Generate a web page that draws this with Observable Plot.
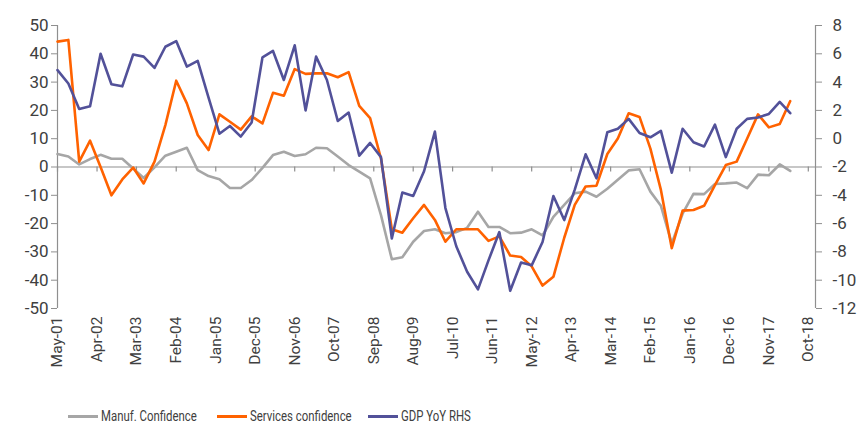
<!DOCTYPE html>
<html>
<head>
<meta charset="utf-8">
<script src="https://cdn.jsdelivr.net/npm/d3@7"></script>
<script src="https://cdn.jsdelivr.net/npm/@observablehq/plot@0.6"></script>
<style>
  html, body { margin: 0; padding: 0; background: #fff; }
  #wrap { position: relative; width: 862px; height: 425px; font-family: Roboto, "Noto Sans", sans-serif; }
  #legend { position: absolute; top: 407px; left: 0; width: 862px; height: 20px; font-size: 15px; color: #404040; }
  .item { position: absolute; top: 0; display: flex; align-items: center; white-space: nowrap; }
  .sw { width: 30px; height: 3px; margin-right: 3px; }
  .lt { display: inline-block; transform: scaleX(0.76); transform-origin: left center; }
</style>
</head>
<body>
<div id="wrap">
  <div id="chart"></div>
  <div id="legend"></div>
</div>
<script>
// Tick labels on the x axis
const tickLabels = ["May-01","Apr-02","Mar-03","Feb-04","Jan-05","Dec-05","Nov-06","Oct-07","Sep-08","Aug-09",
  "Jul-10","Jun-11","May-12","Apr-13","Mar-14","Feb-15","Jan-16","Dec-16","Nov-17","Oct-18"];
const leftTicks = [-50,-40,-30,-20,-10,0,10,20,30,40,50];
const rightTicks = [-12,-10,-8,-6,-4,-2,0,2,4,6,8];
const seriesNames = ["Manuf. Confidence","Services confidence","GDP YoY RHS"];
const seriesColors = ["#a6a6a6","#ff6200","#525199"];

// Quarterly observations starting May-01
const firstPeriod = "May-01";
const manuf = [4.6,3.7,0.9,2.8,4.3,2.9,2.9,-0.5,-3.9,-0.1,4.0,5.4,6.8,-1.1,-3.2,-4.3,-7.4,-7.4,-4.6,-0.3,
  4.2,5.4,3.9,4.5,6.8,6.6,3.7,0.7,-1.6,-4.0,-17,-32.6,-31.9,-26.4,-22.6,-22.0,-23.4,-23.0,-21.5,-15.8,
  -21.2,-21.2,-23.4,-23.2,-22.0,-24.2,-17.6,-13.4,-9.3,-8.7,-10.5,-7.7,-4.5,-1.2,-0.8,-8.7,-13.7,-27,-16.5,-9.5,
  -9.6,-6.0,-5.8,-5.5,-7.5,-2.7,-2.9,0.9,-1.4];
const services = [44.3,44.9,1.9,9.3,0,-10,-4.4,-0.2,-5.8,1.9,14.8,30.5,22.5,11.3,6.0,18.6,16.0,13.2,17.9,15.4,
  26.2,25.2,34.6,32.9,33.1,33.1,31.7,33.5,21.6,17.3,3.0,-22,-23.2,-18.1,-13.4,-18.7,-26.4,-22,-22,-22,
  -26.1,-24.5,-31.3,-31.8,-35.1,-41.9,-38.8,-25,-13.4,-6.9,-6.6,4.6,10.1,19,17.7,6.5,-8.1,-28.7,-15.4,-15.2,
  -13.7,-6.4,0.7,1.9,10.1,18.6,14,15.2,23.3];
const gdp = [4.85,3.9,2.1,2.3,6.0,3.85,3.7,5.95,5.8,5.0,6.5,6.9,5.1,5.5,2.9,0.35,0.9,0.15,1.15,5.75,
  6.2,4.15,6.6,2.0,5.8,4.15,1.25,1.85,-1.2,-0.3,-1.3,-7.05,-3.8,-4.05,-2.3,0.5,-4.9,-7.6,-9.4,-10.65,
  -8.6,-6.6,-10.75,-8.75,-8.95,-7.3,-4.05,-5.75,-3.6,-1.1,-2.8,0.45,0.7,1.4,0.4,0.1,0.55,-2.4,0.7,-0.25,
  -0.55,1.0,-1.3,0.7,1.4,1.5,1.75,2.6,1.8];

const parse = d3.utcParse("%b-%y");
const start = parse(firstPeriod);
const dates = manuf.map((_, i) => d3.utcMonth.offset(start, 3 * i));
const tickDates = tickLabels.map(parse);
const labelOf = new Map(tickDates.map((d, i) => [+d, tickLabels[i]]));
const xDomain = [start, parse("Dec-18")];

// right axis (GDP) mapped onto the left scale: L = 5 * r + 10
const toLeft = r => 5 * r + 10;
const rows = (vals) => vals.map((v, i) => ({date: dates[i], value: v}));

const axisGray = "#8f8f8f";
const chart = Plot.plot({
  width: 862,
  height: 392,
  marginLeft: 57,
  marginRight: 47,
  marginTop: 25,
  marginBottom: 84,
  x: {type: "utc", domain: xDomain, label: null},
  y: {domain: [-50, 50], label: null},
  style: {fontFamily: "Roboto, 'Noto Sans', sans-serif", fontSize: "15px", color: "#404040", background: "#fff"},
  marks: [
    Plot.ruleY([0], {stroke: axisGray, strokeWidth: 1.2}),
    Plot.ruleX(tickDates, {x: d => d, y1: 0, y2: -1.8, stroke: axisGray, strokeWidth: 1.2}),
    Plot.ruleX([xDomain[0]], {stroke: axisGray, strokeWidth: 1.2}),
    Plot.ruleX([xDomain[1]], {stroke: axisGray, strokeWidth: 1.2}),
    Plot.axisY({anchor: "left", ticks: leftTicks, tickSize: 6, tickPadding: 3, stroke: axisGray,
      tickFormat: d => String(d), fontSize: 17, label: null}),
    Plot.axisY({anchor: "right", ticks: rightTicks.map(toLeft), tickSize: 6, tickPadding: 11, stroke: axisGray,
      tickFormat: v => String(Math.round((v - 10) / 5)), textAnchor: "start", fontSize: 17, label: null}),
    Plot.axisX({ticks: tickDates, tickFormat: d => labelOf.get(+d), tickRotate: -90, tickSize: 0, tickPadding: 8, fontSize: 15.5, label: null}),
    Plot.line(rows(manuf), {x: "date", y: "value", stroke: seriesColors[0], strokeWidth: 2.6}),
    Plot.line(rows(services), {x: "date", y: "value", stroke: seriesColors[1], strokeWidth: 2.6}),
    Plot.line(rows(gdp), {x: "date", y: d => toLeft(d.value), stroke: seriesColors[2], strokeWidth: 2.6})
  ]
});
document.getElementById("chart").appendChild(chart);

// legend
const legendLefts = [68, 217, 368];
const legend = document.getElementById("legend");
seriesNames.forEach((name, i) => {
  const it = document.createElement("div");
  it.className = "item";
  it.style.left = legendLefts[i] + "px";
  const sw = document.createElement("div");
  sw.className = "sw";
  sw.style.background = seriesColors[i];
  const t = document.createElement("span");
  t.className = "lt";
  t.textContent = name;
  it.appendChild(sw); it.appendChild(t);
  legend.appendChild(it);
});
</script>
</body>
</html>
